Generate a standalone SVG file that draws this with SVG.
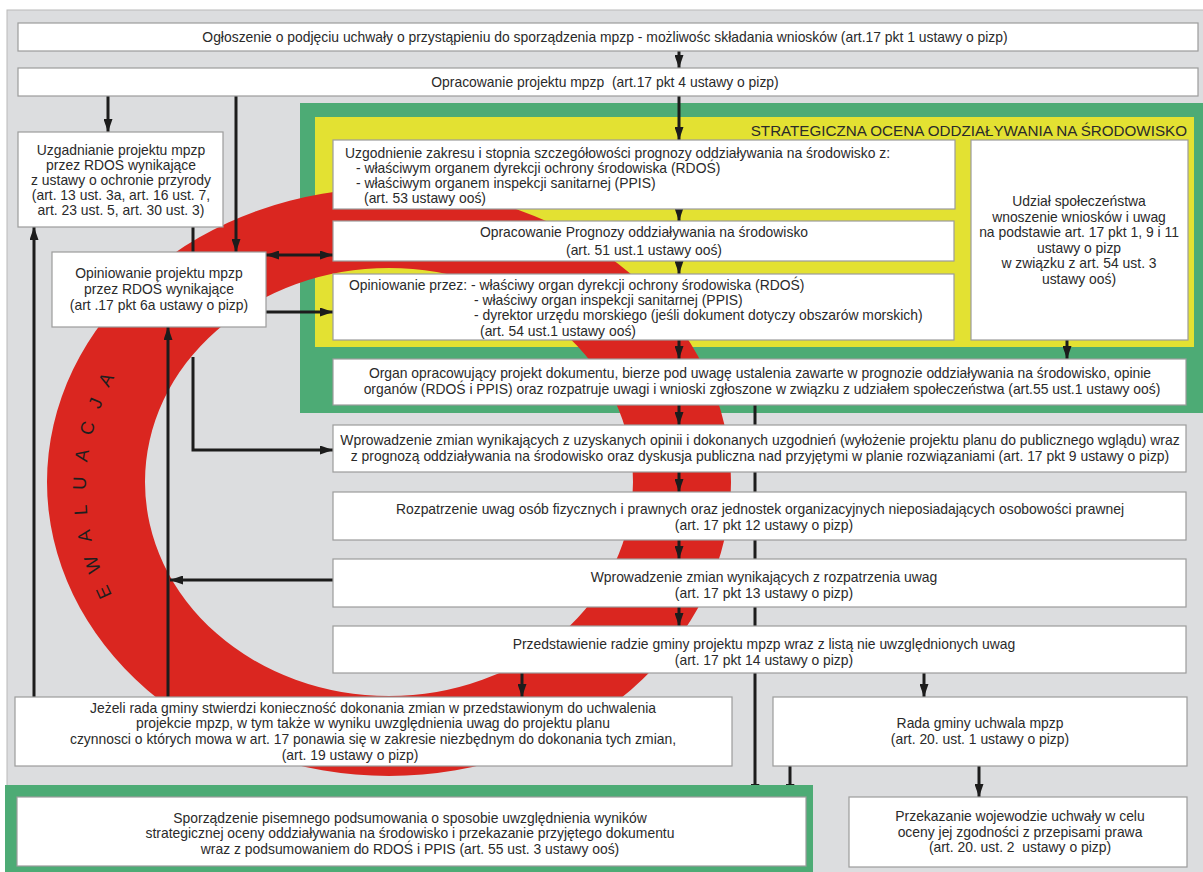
<svg xmlns="http://www.w3.org/2000/svg" width="1203" height="872" viewBox="0 0 1203 872">
<defs>
<style>
.box{fill:#ffffff;stroke:#9c9c9c;stroke-width:1.2}
.t{font-family:"Liberation Sans",Arial,sans-serif;font-size:13.9px;fill:#2a2a2a}
.c{text-anchor:middle}
.con{fill:none;stroke:#1c1c1c;stroke-width:3}
.ttl{font-family:"Liberation Sans",Arial,sans-serif;font-size:15.2px;fill:#2a2a2a;text-anchor:end}
.ew{font-family:"Liberation Sans",Arial,sans-serif;font-size:18.5px;fill:#1e1e1e;letter-spacing:14.3px}
</style>
<marker id="ah" markerUnits="userSpaceOnUse" markerWidth="13" markerHeight="9" refX="13" refY="4.5" orient="auto"><path d="M0,0 L13,4.5 L0,9 z" fill="#1c1c1c"/></marker>
<marker id="ahs" markerUnits="userSpaceOnUse" markerWidth="13" markerHeight="9" refX="0" refY="4.5" orient="auto"><path d="M13,0 L0,4.5 L13,9 z" fill="#1c1c1c"/></marker>
<path id="ewPath" d="M140.8,638.4 A303,262 0 0 1 140.8,337.6"/>
</defs>
<rect x="0" y="0" width="1203" height="872" fill="#ffffff"/>
<rect x="7" y="10" width="1197" height="863" fill="#dcdddf" stroke="#b9b9b9" stroke-width="1"/>
<g id="soo-frame">
<rect x="300" y="103" width="903" height="310" fill="#4dab75"/>
<rect x="315" y="117" width="879" height="230" fill="#e3e132"/>
</g>
<g id="ewaluacja">
<path fill="#da2620" fill-rule="evenodd" d="M47,482 A342,294 0 1,0 731,482 A342,294 0 1,0 47,482 Z M145,482 A244,214 0 1,0 633,482 A244,214 0 1,0 145,482 Z"/>
<text class="ew"><textPath href="#ewPath" startOffset="52">EWALUACJA</textPath></text>
</g>
<text class="ttl" x="1187" y="136">STRATEGICZNA OCENA ODDZIAŁYWANIA NA ŚRODOWISKO</text>
<g id="connectors">
<path class="con" d="M679,51 V68" marker-end="url(#ah)"/>
<path class="con" d="M679,96 V140" marker-end="url(#ah)"/>
<path class="con" d="M679,209 V221" marker-end="url(#ah)"/>
<path class="con" d="M679,261 V274" marker-end="url(#ah)"/>
<path class="con" d="M679,340 V359" marker-end="url(#ah)"/>
<path class="con" d="M679,405 V425" marker-end="url(#ah)"/>
<path class="con" d="M679,472 V492" marker-end="url(#ah)"/>
<path class="con" d="M679,540 V559" marker-end="url(#ah)"/>
<path class="con" d="M679,607 V626" marker-end="url(#ah)"/>
<path class="con" d="M1067,340 V359" marker-end="url(#ah)"/>
<path class="con" d="M108,96 V132" marker-end="url(#ah)"/>
<path class="con" d="M236,96 V252" marker-end="url(#ah)"/>
<path class="con" d="M266,255 H333" marker-start="url(#ahs)" marker-end="url(#ah)"/>
<path class="con" d="M266,312 H333" marker-end="url(#ah)"/>
<path class="con" d="M193,227 V252 M193,357 V450 H333" marker-end="url(#ah)"/>
<path class="con" d="M333,580 H170" marker-end="url(#ah)"/>
<path class="con" d="M168,697 V327" marker-end="url(#ah)"/>
<path class="con" d="M34,697 V227" marker-end="url(#ah)"/>
<path class="con" d="M522,673 V697" marker-end="url(#ah)"/>
<path class="con" d="M924,673 V697" marker-end="url(#ah)"/>
<path class="con" d="M755,405 V797" marker-end="url(#ah)"/>
<path class="con" d="M790,766 V797" marker-end="url(#ah)"/>
<path class="con" d="M979,766 V797" marker-end="url(#ah)"/>
</g>
<g id="n-ogloszenie">
<rect class="box" x="18" y="23" width="1180" height="28"/>
<text class="t c" x="605" y="42">Ogłoszenie o podjęciu uchwały o przystąpieniu do sporządzenia mpzp - możliwośc składania wniosków (art.17 pkt 1 ustawy o pizp)</text>
</g>
<g id="n-opracowanie">
<rect class="box" x="18" y="68" width="1180" height="28"/>
<text class="t c" x="605" y="87">Opracowanie projektu mpzp&#160; (art.17 pkt 4 ustawy o pizp)</text>
</g>
<g id="n-uzgodnienie-zakresu">
<rect class="box" x="333" y="140" width="622" height="69"/>
<text class="t" x="345" y="158">Uzgodnienie zakresu i stopnia szczegółowości prognozy oddziaływania na środowisko z:</text>
<text class="t" x="356" y="173">- właściwym organem dyrekcji ochrony środowiska (RDOŚ)</text>
<text class="t" x="356" y="188">- właściwym organem inspekcji sanitarnej (PPIS)</text>
<text class="t" x="364" y="203">(art. 53 ustawy ooś)</text>
</g>
<g id="n-udzial">
<rect class="box" x="971" y="140" width="217" height="200"/>
<text class="t c" x="1079" y="206">Udział społeczeństwa</text>
<text class="t c" x="1079" y="222">wnoszenie wniosków i uwag</text>
<text class="t c" x="1079" y="237">na podstawie art. 17 pkt 1, 9 i 11</text>
<text class="t c" x="1079" y="253">ustawy o pizp</text>
<text class="t c" x="1079" y="268">w związku z art. 54 ust. 3</text>
<text class="t c" x="1079" y="284">ustawy ooś)</text>
</g>
<g id="n-prognoza">
<rect class="box" x="333" y="221" width="621" height="40"/>
<text class="t c" x="644" y="237">Opracowanie Prognozy oddziaływania na środowisko</text>
<text class="t c" x="644" y="255">(art. 51 ust.1 ustawy ooś)</text>
</g>
<g id="n-opiniowanie-przez">
<rect class="box" x="333" y="274" width="621" height="66"/>
<text class="t" x="349" y="290">Opiniowanie przez: - właściwy organ dyrekcji ochrony środowiska (RDOŚ)</text>
<text class="t" x="474" y="305">- właściwy organ inspekcji sanitarnej (PPIS)</text>
<text class="t" x="474" y="320">- dyrektor urzędu morskiego (jeśli dokument dotyczy obszarów morskich)</text>
<text class="t" x="480" y="336">(art. 54 ust.1 ustawy ooś)</text>
</g>
<g id="n-organ">
<rect class="box" x="333" y="359" width="853" height="46"/>
<text class="t c" x="760" y="378">Organ opracowujący projekt dokumentu, bierze pod uwagę ustalenia zawarte w prognozie oddziaływania na środowisko, opinie</text>
<text class="t c" x="762" y="394">organów (RDOŚ i PPIS) oraz rozpatruje uwagi i wnioski zgłoszone w związku z udziałem społeczeństwa (art.55 ust.1 ustawy ooś)</text>
</g>
<g id="n-uzgadnianie">
<rect class="box" x="18" y="132" width="205" height="95"/>
<text class="t c" x="121" y="155">Uzgadnianie projektu mpzp</text>
<text class="t c" x="121" y="170">przez RDOŚ wynikające</text>
<text class="t c" x="121" y="185">z ustawy o ochronie przyrody</text>
<text class="t c" x="121" y="200">(art. 13 ust. 3a, art. 16 ust. 7,</text>
<text class="t c" x="121" y="215">art. 23 ust. 5, art. 30 ust. 3)</text>
</g>
<g id="n-opiniowanie-rdos">
<rect class="box" x="52" y="252" width="214" height="75"/>
<text class="t c" x="159" y="278">Opiniowanie projektu mpzp</text>
<text class="t c" x="159" y="294">przez RDOŚ wynikające</text>
<text class="t c" x="159" y="310">(art .17 pkt 6a ustawy o pizp)</text>
</g>
<g id="n-wprowadzenie-opinii">
<rect class="box" x="333" y="425" width="853" height="47"/>
<text class="t c" x="760" y="445">Wprowadzenie zmian wynikających z uzyskanych opinii i dokonanych uzgodnień (wyłożenie projektu planu do publicznego wglądu) wraz</text>
<text class="t c" x="760" y="461">z prognozą oddziaływania na środowisko oraz dyskusja publiczna nad przyjętymi w planie rozwiązaniami (art. 17 pkt 9 ustawy o pizp)</text>
</g>
<g id="n-rozpatrzenie">
<rect class="box" x="333" y="492" width="853" height="48"/>
<text class="t c" x="760" y="514">Rozpatrzenie uwag osób fizycznych i prawnych oraz jednostek organizacyjnych nieposiadających osobowości prawnej</text>
<text class="t c" x="764" y="530">(art. 17 pkt 12 ustawy o pizp)</text>
</g>
<g id="n-wprowadzenie-uwag">
<rect class="box" x="333" y="559" width="853" height="48"/>
<text class="t c" x="764" y="582">Wprowadzenie zmian wynikających z rozpatrzenia uwag</text>
<text class="t c" x="764" y="598">(art. 17 pkt 13 ustawy o pizp)</text>
</g>
<g id="n-przedstawienie">
<rect class="box" x="333" y="626" width="853" height="47"/>
<text class="t c" x="764" y="649">Przedstawienie radzie gminy projektu mpzp wraz z listą nie uwzględnionych uwag</text>
<text class="t c" x="764" y="665">(art. 17 pkt 14 ustawy o pizp)</text>
</g>
<g id="n-jezeli">
<rect class="box" x="15" y="697" width="717" height="69"/>
<text class="t c" x="373" y="713">Jeżeli rada gminy stwierdzi konieczność dokonania zmian w przedstawionym do uchwalenia</text>
<text class="t c" x="373" y="728">projekcie mpzp, w tym także w wyniku uwzględnienia uwag do projektu planu</text>
<text class="t c" x="373" y="744">czynnosci o których mowa w art. 17 ponawia się w zakresie niezbędnym do dokonania tych zmian,</text>
<text class="t c" x="350" y="760">(art. 19 ustawy o pizp)</text>
</g>
<g id="n-rada">
<rect class="box" x="773" y="697" width="414" height="69"/>
<text class="t c" x="980" y="728">Rada gminy uchwala mpzp</text>
<text class="t c" x="980" y="744">(art. 20. ust. 1 ustawy o pizp)</text>
</g>
<g id="n-sporzadzenie">
<rect x="5" y="785" width="808" height="87" fill="#4dab75"/>
<rect class="box" x="17" y="797" width="789" height="69"/>
<text class="t c" x="410" y="823">Sporządzenie pisemnego podsumowania o sposobie uwzględnienia wyników</text>
<text class="t c" x="410" y="838">strategicznej oceny oddziaływania na środowisko i przekazanie przyjętego dokumentu</text>
<text class="t c" x="410" y="854">wraz z podsumowaniem do RDOŚ i PPIS (art. 55 ust. 3 ustawy ooś)</text>
</g>
<g id="n-przekazanie">
<rect class="box" x="849" y="797" width="338" height="70"/>
<text class="t c" x="1020" y="821">Przekazanie wojewodzie uchwały w celu</text>
<text class="t c" x="1020" y="837">oceny jej zgodności z przepisami prawa</text>
<text class="t c" x="1020" y="852">(art. 20. ust. 2&#160; ustawy o pizp)</text>
</g>
</svg>
